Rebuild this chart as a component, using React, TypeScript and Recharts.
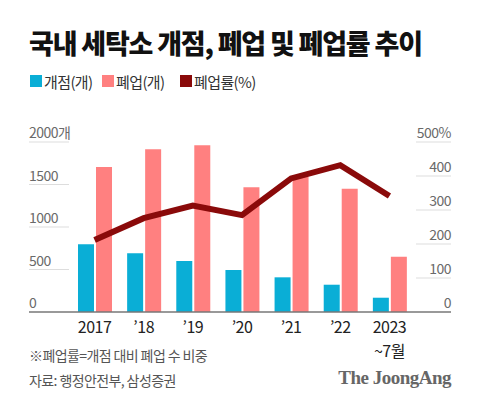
import { ComposedChart, Bar, Line, XAxis, YAxis } from "recharts";

const years = ["2017", "’18", "’19", "’20", "’21", "’22", "2023"];
const opened = [796, 690, 600, 494, 408, 321, 168];
const closed = [1706, 1914, 1961, 1467, 1592, 1451, 651];
const closeRate = [212, 276, 313, 285, 393, 432, 341];
const leftTicks = [0, 500, 1000, 1500, 2000];
const rightTicks = [0, 100, 200, 300, 400, 500];

const BLUE = "#0aaed6";
const PINK = "#ff8080";
const DARK = "#8a0a0a";
const FONT = "'Noto Sans CJK KR', 'Noto Sans', sans-serif";

const data = years.map((y, i) => ({
  year: y,
  opened: opened[i],
  closed: closed[i],
  rate: closeRate[i],
}));

const LeftTick = (props: any) => {
  const { y, payload } = props;
  const v = payload.value;
  return (
    <g>
      {v === 0 ? (
        <line x1={29} x2={451} y1={y} y2={y} stroke="#777" strokeWidth={1.5} />
      ) : (
        <line x1={29} x2={69} y1={y} y2={y} stroke="#ddd" strokeWidth={1} />
      )}
      <text x={29} y={y - 4} fontSize={14} fill="#6a6a6a" fontFamily={FONT} letterSpacing={-0.5}>
        {v === 2000 ? "2000개" : v}
      </text>
    </g>
  );
};

const RightTick = (props: any) => {
  const { y, payload } = props;
  const v = payload.value;
  return (
    <g>
      {v !== 0 && <line x1={416} x2={451} y1={y} y2={y} stroke="#ddd" strokeWidth={1} />}
      <text x={451} y={y - 4} fontSize={14} fill="#6a6a6a" textAnchor="end" fontFamily={FONT} letterSpacing={-0.5}>
        {v === 500 ? "500%" : v}
      </text>
    </g>
  );
};

// 2023 gets a second line "~7월"
const YearTick = (props: any) => {
  const { x, y, payload } = props;
  const last = payload.value === "2023";
  return (
    <g>
      <text x={x} y={y + 13} fontSize={16} fill="#222" textAnchor="middle" fontFamily={FONT} letterSpacing={-0.5}>
        {payload.value}
      </text>
      {last && (
        <text x={x} y={y + 37} fontSize={16} fill="#222" textAnchor="middle" fontFamily={FONT} letterSpacing={-0.5}>
          ~7월
        </text>
      )}
    </g>
  );
};

const legendItems = [
  { label: "개점(개)", color: BLUE, x: 30 },
  { label: "폐업(개)", color: PINK, x: 102 },
  { label: "폐업률(%)", color: DARK, x: 180 },
];

export default function App() {
  return (
    <div style={{ position: "absolute", left: 0, top: 0, width: 480, height: 407, background: "#fff", fontFamily: FONT }}>
      <div style={{ position: "absolute", left: 29, top: 24, fontSize: 27, fontWeight: 900, color: "#111", letterSpacing: -1.2, whiteSpace: "nowrap", lineHeight: "38px" }}>
        국내 세탁소 개점, 폐업 및 폐업률 추이
      </div>
      {legendItems.map((l) => (
        <div key={l.label} style={{ position: "absolute", left: l.x, top: 71, height: 20, display: "flex", alignItems: "center", whiteSpace: "nowrap" }}>
          <span style={{ display: "inline-block", width: 12, height: 12, background: l.color, marginRight: 2 }} />
          <span style={{ fontSize: 15, color: "#333", letterSpacing: -0.6 }}>{l.label}</span>
        </div>
      ))}
      <div style={{ position: "absolute", top: 0, left: 0 }}>
        <ComposedChart
          width={480}
          height={407}
          data={data}
          margin={{ top: 142, right: 29, left: 29, bottom: 55 }}
          barSize={16}
          barGap={2}
        >
          <XAxis dataKey="year" axisLine={false} tickLine={false} tick={<YearTick />} height={40} interval={0} />
          <YAxis yAxisId="left" domain={[0, 2000]} ticks={leftTicks} width={41} axisLine={false} tickLine={false} tick={<LeftTick />} />
          <YAxis yAxisId="right" orientation="right" domain={[0, 500]} ticks={rightTicks} width={37} axisLine={false} tickLine={false} tick={<RightTick />} />
          <Bar yAxisId="left" dataKey="opened" fill={BLUE} isAnimationActive={false} />
          <Bar yAxisId="left" dataKey="closed" fill={PINK} isAnimationActive={false} />
          <Line yAxisId="right" dataKey="rate" stroke={DARK} strokeWidth={6} dot={false} strokeLinejoin="miter" strokeLinecap="butt" isAnimationActive={false} />
        </ComposedChart>
      </div>
      <div style={{ position: "absolute", left: 29, top: 345, fontSize: 14, color: "#555", letterSpacing: -0.6, whiteSpace: "nowrap" }}>
        ※폐업률=개점 대비 폐업 수 비중
      </div>
      <div style={{ position: "absolute", left: 29, top: 370, fontSize: 14, color: "#555", letterSpacing: -0.6, whiteSpace: "nowrap" }}>
        자료: 행정안전부, 삼성증권
      </div>
      <div style={{ position: "absolute", right: 29, top: 367, fontSize: 19, fontWeight: 700, color: "#666", fontFamily: "'Liberation Serif', 'DejaVu Serif', serif", letterSpacing: -0.5, whiteSpace: "nowrap" }}>
        The JoongAng
      </div>
    </div>
  );
}
